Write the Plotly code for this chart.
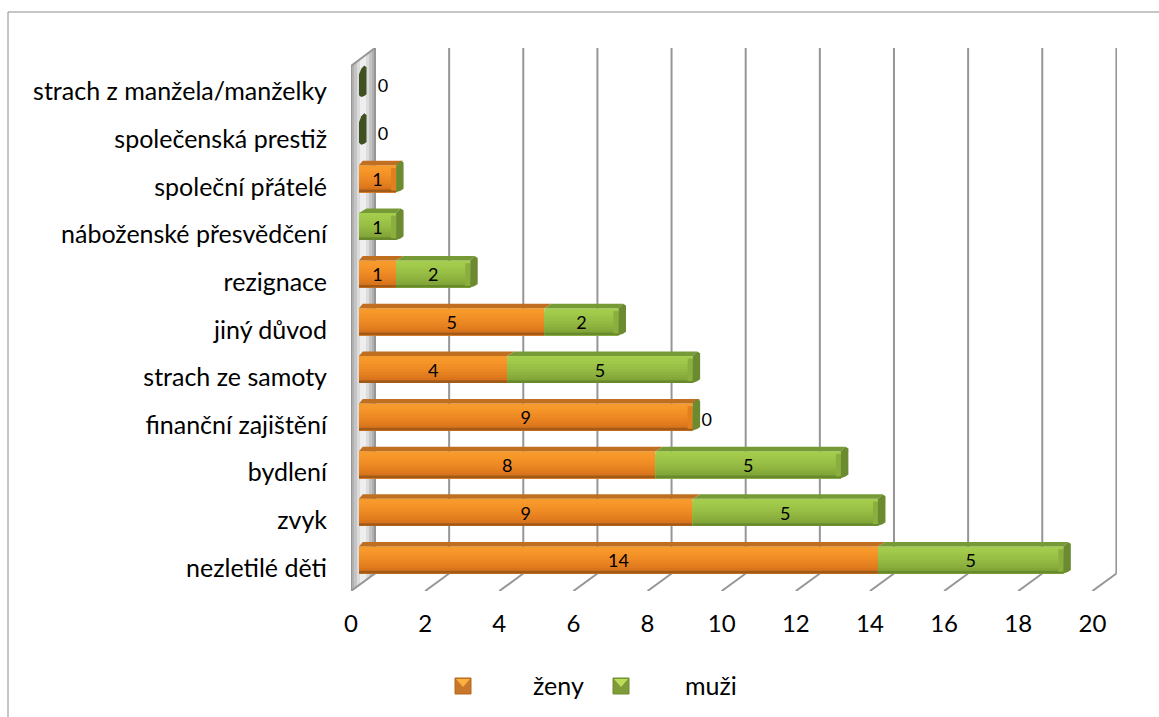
import plotly.graph_objects as go

categories = ["nezletilé děti", "zvyk", "bydlení", "finanční zajištění", "strach ze samoty",
              "jiný důvod", "rezignace", "náboženské přesvědčení", "společní přátelé",
              "společenská prestiž", "strach z manžela/manželky"]
zeny = [14, 9, 8, 9, 4, 5, 1, 0, 1, 0, 0]
muzi = [5, 5, 5, 0, 5, 2, 2, 1, 0, 0, 0]
zeny_labels = ["14", "9", "8", "9", "4", "5", "1", "", "1", "", ""]
muzi_labels = ["5", "5", "5", "0", "5", "2", "2", "1", "", "0", "0"]
x_ticks = list(range(0, 21, 2))

W, H = 1159, 717
FONT = "Lato"
TXT = "#000000"
GRID = "#969696"

# pixel calibration of the oblique chart box
PX_X, PX_Y = 37.07, 47.65
X_L, X_R, Y_T, Y_B = 351, 1117, 48, 591
ORIGIN_X, ORIGIN_Y = 359, 560
xlo, xhi = (X_L - ORIGIN_X) / PX_X, (X_R - ORIGIN_X) / PX_X
ylo, yhi = (ORIGIN_Y - Y_B) / PX_Y, (ORIGIN_Y - Y_T) / PX_Y
FRONT_DX, BACK_DX = -8 / PX_X, 16 / PX_X
BACK_Y = (ORIGIN_Y - 573.5) / PX_Y
WALL_TOP_FRONT = (ORIGIN_Y - 66) / PX_Y
BAR_H = 27 / PX_Y
DX, DY = 7.5 / PX_X, 4.5 / PX_Y
BEVEL = 5 / PX_X

ORANGE_BANDS = ["#F79A2C", "#F7982B", "#F59428", "#F29026", "#EF8B24", "#EB8622", "#E68120", "#E07B1E", "#D8751C", "#A25A18"]
GREEN_BANDS = ["#A4CC4D", "#A2CA4B", "#9FC749", "#9BC247", "#97BE45", "#93B942", "#8EB33F", "#89AD3C", "#83A639", "#688A2C"]
ORANGE_TOP, GREEN_TOP, GREEN_SIDE, ZERO_SIDE = "#C06E20", "#769A35", "#6C8B31", "#3F5120"
GREEN_END, ORANGE_END = "#8BAF3E", "#E2801F"
WALL_BANDS = ["#B0B0B0", "#C4C4C4", "#DCDCDC", "#EEEEEE", "#EEEEEE", "#DCDCDC", "#C4C4C4", "#B0B0B0"]

pos = list(range(len(categories)))
fig = go.Figure()


def band_traces(vals, bases, colors):
    n = len(colors)
    for k, c in enumerate(colors):
        w = BAR_H * (n - k) / n
        fig.add_trace(go.Bar(y=pos, x=vals, base=bases, orientation="h", width=w, offset=-BAR_H / 2,
                             marker=dict(color=c, line=dict(width=0)), showlegend=False, hoverinfo="skip"))


band_traces(zeny, [0] * len(zeny), ORANGE_BANDS)
band_traces(muzi, zeny, GREEN_BANDS)


def poly(xs, ys, color):
    fig.add_trace(go.Scatter(x=xs, y=ys, mode="lines", fill="toself", fillcolor=color,
                             line=dict(width=0, color=color), showlegend=False, hoverinfo="skip"))


for i, (z, m) in enumerate(zip(zeny, muzi)):
    t = i + BAR_H / 2
    b = i - BAR_H / 2
    e = z + m
    if e == 0:
        # a row with no value at all keeps only its dark end cap
        c = DX * 0.3
        poly([0, c, DX - c, DX, DX, DX - c, c, 0, 0],
             [t - DY, t + DY * 0.3, t + DY, t + DY * 0.6, b + DY * 0.6, b + DY * 0.2, b, b + DY * 0.4, t - DY], ZERO_SIDE)
        continue
    if z:
        poly([0, z, z + DX, DX * 0.5, 0], [t, t, t + DY, t + DY, t], ORANGE_TOP)
    if m:
        poly([z, e, e + DX * 0.6, z + DX, z], [t, t, t + DY, t + DY, t], GREEN_TOP)
    end_color = GREEN_END if m else ORANGE_END
    if m or z:
        poly([e - BEVEL, e, e, e - BEVEL, e - BEVEL],
             [t - DY * 0.6, t - DY * 0.6, b + DY * 0.4, b + DY * 0.4, t - DY * 0.6], end_color)
    poly([e, e + DX * 0.6, e + DX, e + DX, e + DX * 0.6, e, e],
         [t, t + DY, t + DY * 0.6, b + DY * 0.8, b + DY * 0.35, b, t], GREEN_SIDE)

lx, ly, lt = [], [], []
for i, (z, m) in enumerate(zip(zeny, muzi)):
    if zeny_labels[i]:
        lx.append(z / 2); ly.append(i - 0.06); lt.append(zeny_labels[i])
    if muzi_labels[i]:
        gap = 0
        if m == 0:
            gap = (24 if z == 0 else 14) / PX_X
        lx.append(z + m / 2 + gap); ly.append(i - (0.09 if m == 0 else 0.06)); lt.append(muzi_labels[i])
fig.add_trace(go.Scatter(x=lx, y=ly, text=lt, mode="text", textposition="middle center",
                         textfont=dict(family=FONT, size=18, color=TXT), showlegend=False, hoverinfo="skip"))

shapes = []
# left wall
nb = len(WALL_BANDS)
span = BACK_DX - FRONT_DX
for k, c in enumerate(WALL_BANDS):
    a = FRONT_DX + span * k / nb
    bb = FRONT_DX + span * (k + 1) / nb
    frac_a, frac_b = k / nb, (k + 1) / nb
    ta = WALL_TOP_FRONT + (yhi - WALL_TOP_FRONT) * frac_a
    tb = WALL_TOP_FRONT + (yhi - WALL_TOP_FRONT) * frac_b
    ba = ylo + (BACK_Y - ylo) * frac_a
    bc = ylo + (BACK_Y - ylo) * frac_b
    shapes.append(dict(type="path", xref="x", yref="y", layer="below", fillcolor=c, line=dict(width=0),
                       path=f"M{a},{ba} L{bb},{bc} L{bb},{tb} L{a},{ta} Z"))
# wall outline, back-wall grid and floor ticks
shapes.append(dict(type="path", xref="x", yref="y", layer="below", line=dict(color=GRID, width=2),
                   path=f"M{FRONT_DX},{ylo} L{FRONT_DX},{WALL_TOP_FRONT} L{BACK_DX},{yhi} L{BACK_DX},{BACK_Y} Z"))
for v in x_ticks:
    if v:
        shapes.append(dict(type="line", xref="x", yref="y", layer="below", line=dict(color=GRID, width=2),
                           x0=v + BACK_DX, x1=v + BACK_DX, y0=BACK_Y, y1=yhi))
        shapes.append(dict(type="line", xref="x", yref="y", layer="below", line=dict(color=GRID, width=2),
                           x0=v + FRONT_DX, x1=v + BACK_DX, y0=ylo, y1=BACK_Y))
# chart frame
shapes.append(dict(type="line", xref="paper", yref="paper", layer="below", line=dict(color="#8C8C8C", width=1),
                   x0=8 / W, x1=1, y0=1 - 12 / H, y1=1 - 12 / H))
shapes.append(dict(type="line", xref="paper", yref="paper", layer="below", line=dict(color="#8C8C8C", width=1),
                   x0=8 / W, x1=8 / W, y0=1 - 12 / H, y1=0))


# legend swatches
def swatch(x, base, light, dark):
    def fx(p): return (x + p) / W
    def fy(p): return 1 - (678 + p) / H
    shapes.append(dict(type="rect", xref="paper", yref="paper", x0=fx(0), x1=fx(16), y0=fy(0), y1=fy(16),
                       fillcolor=base, line=dict(color=dark, width=1)))
    shapes.append(dict(type="path", xref="paper", yref="paper", fillcolor=light, line=dict(width=0),
                       path=f"M{fx(1)},{fy(1)} L{fx(15)},{fy(1)} L{fx(8)},{fy(9)} Z"))


swatch(455, "#C9772A", "#FBB040", "#B2691F")
swatch(613, "#7D9C38", "#BEDC5C", "#6E8C30")

annotations = [
    dict(text="ženy", xref="paper", yref="paper", x=531 / W, y=1 - 685 / H, xanchor="left", yanchor="middle",
         showarrow=False, font=dict(family=FONT, size=25, color=TXT)),
    dict(text="muži", xref="paper", yref="paper", x=683 / W, y=1 - 685 / H, xanchor="left", yanchor="middle",
         showarrow=False, font=dict(family=FONT, size=25, color=TXT)),
]

fig.update_layout(
    width=W, height=H, autosize=False,
    margin=dict(l=0, r=0, t=0, b=0, pad=0),
    paper_bgcolor="white", plot_bgcolor="rgba(0,0,0,0)",
    barmode="overlay", showlegend=False, shapes=shapes, annotations=annotations,
    xaxis=dict(domain=[X_L / W, X_R / W], range=[xlo, xhi], showgrid=False, zeroline=False, showline=False,
               automargin=False,
               tickmode="array", tickvals=x_ticks, ticktext=[str(v) for v in x_ticks],
               ticks="", ticklabelposition="outside", ticklabelstandoff=16, ticklabelshift=-8,
               tickfont=dict(family=FONT, size=24, color=TXT)),
    yaxis=dict(domain=[1 - Y_B / H, 1 - Y_T / H], range=[ylo, yhi], showgrid=False, zeroline=False, showline=False,
               automargin=False,
               tickmode="array", tickvals=pos, ticktext=categories, ticks="",
               ticklabelstandoff=23, ticklabelshift=8,
               tickfont=dict(family=FONT, size=25, color=TXT)),
)

fig.write_html("out.html", post_script="document.body.style.margin='0';document.body.style.overflow='hidden';",
               config={"displayModeBar": False})
